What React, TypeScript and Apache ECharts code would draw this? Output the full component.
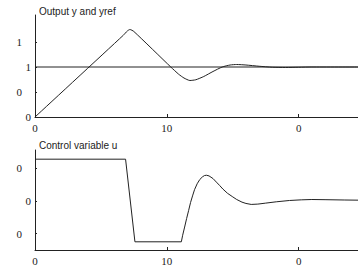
import React, { useEffect, useRef } from "react";
import * as echarts from "echarts";

const titles = ["Output y and yref", "Control variable u"];

// top chart: output y
const tY = [0, 6.7, 7.0, 7.2, 7.5, 10.3, 10.9, 11.3, 11.75, 12.2, 12.8, 13.5, 14.2, 14.8, 15.3, 16.0, 17.0, 18.0, 19.0, 20.0, 21.0, 24.5];
const yVals = [0, 1.635, 1.72, 1.75, 1.71, 1.0, 0.855, 0.78, 0.73, 0.745, 0.81, 0.91, 1.0, 1.04, 1.05, 1.04, 1.015, 0.995, 0.99, 0.995, 1.0, 1.0];
const tRef = [0, 24.5];
const yRef = [1, 1];

// bottom chart: control variable u
const tU = [0, 6.87, 7.58, 11.1, 11.2, 11.35, 11.5, 11.65, 11.8, 11.95, 12.1, 12.3, 12.5, 12.7, 12.85, 13.0, 13.2, 13.5, 13.76, 14.0, 14.25, 14.6, 15.0, 15.3, 15.7, 16.0, 16.4, 16.9, 17.5, 18.3, 19.3, 20.2, 21.0, 22.0, 23.5, 24.5];
const uVals = [1.27, 1.27, -1.25, -1.25, -1.05, -0.8, -0.54, -0.3, -0.05, 0.15, 0.34, 0.52, 0.65, 0.73, 0.77, 0.78, 0.76, 0.68, 0.57, 0.47, 0.36, 0.23, 0.12, 0.04, -0.04, -0.08, -0.11, -0.1, -0.07, -0.03, 0.01, 0.03, 0.04, 0.035, 0.025, 0.02];

// ticks and labels
const xTicks = [0, 10, 20];
const xTickLabels = ["0", "10", "0"];
const yTicks = [0, 0.5, 1, 1.5];
const yTickLabels = ["0", "0", "1", "1"];
const yTickFar = [false, true, false, true];
const uTicks = [-1, 0, 1];
const uTickLabels = ["0", "0", "0"];
const uTickFar = [true, false, true];

const ink = "#222";
const serif = "Liberation Serif";

function zip(a: number[], b: number[]) {
  return a.map((v, i) => [v, b[i]]);
}

function labelFor(ticks: number[], labels: string[], far: boolean[], v: number) {
  const i = ticks.findIndex((t) => Math.abs(t - v) < 1e-9);
  if (i < 0) return "";
  return far[i] ? `{b|${labels[i]}}` : `{a|${labels[i]}}`;
}

export default function App() {
  const ref = useRef<HTMLDivElement>(null);
  useEffect(() => {
    if (!ref.current) return;
    const chart = echarts.init(ref.current, null, { renderer: "svg" });
    const xAxisBase = (gridIndex: number) => ({
      type: "value",
      gridIndex,
      min: 0,
      max: 24.5,
      axisLine: { show: true, onZero: false, lineStyle: { color: ink, width: 1 } },
      axisTick: { show: true, inside: true, length: 3, customValues: xTicks, lineStyle: { color: ink } },
      axisLabel: {
        show: true,
        customValues: xTicks,
        margin: 5,
        fontFamily: serif,
        fontSize: 11,
        color: ink,
        formatter: (v: number) => {
          const i = xTicks.indexOf(v);
          return i >= 0 ? xTickLabels[i] : "";
        },
      },
      splitLine: { show: false },
    });
    const rich = {
      a: { fontFamily: serif, fontSize: 11, color: ink },
      b: { fontFamily: serif, fontSize: 11, color: ink, padding: [0, 9, 0, 0] },
    };
    const titleStyle = { fontFamily: "Liberation Sans", fontSize: 10, fontWeight: "normal", color: ink };
    chart.setOption({
      animation: false,
      title: [
        { text: titles[0], left: 39, top: 6, padding: 0, textStyle: titleStyle },
        { text: titles[1], left: 39, top: 140, padding: 0, textStyle: titleStyle },
      ],
      grid: [
        { left: 35, top: 15, right: 0, height: 102 },
        { left: 35, top: 150, right: 0, height: 102 },
      ],
      xAxis: [xAxisBase(0), xAxisBase(1)],
      yAxis: [
        {
          type: "value",
          gridIndex: 0,
          min: 0,
          max: 2.04,
          axisLine: { show: true, onZero: false, lineStyle: { color: ink, width: 1 } },
          axisTick: { show: true, inside: true, length: 2, customValues: yTicks, lineStyle: { color: ink } },
          axisLabel: {
            show: true,
            customValues: yTicks,
            margin: 4,
            rich,
            formatter: (v: number) => labelFor(yTicks, yTickLabels, yTickFar, v),
          },
          splitLine: { show: false },
        },
        {
          type: "value",
          gridIndex: 1,
          min: -1.5,
          max: 1.55,
          axisLine: { show: true, onZero: false, lineStyle: { color: ink, width: 1 } },
          axisTick: { show: true, inside: true, length: 2, customValues: uTicks, lineStyle: { color: ink } },
          axisLabel: {
            show: true,
            customValues: uTicks,
            margin: 4,
            rich,
            formatter: (v: number) => labelFor(uTicks, uTickLabels, uTickFar, v),
          },
          splitLine: { show: false },
        },
      ],
      series: [
        {
          type: "line",
          xAxisIndex: 0,
          yAxisIndex: 0,
          data: zip(tRef, yRef),
          showSymbol: false,
          lineStyle: { color: ink, width: 1 },
        },
        {
          type: "line",
          xAxisIndex: 0,
          yAxisIndex: 0,
          data: zip(tY, yVals),
          showSymbol: false,
          smooth: 0.2,
          lineStyle: { color: ink, width: 1 },
        },
        {
          type: "line",
          xAxisIndex: 1,
          yAxisIndex: 1,
          data: zip(tU, uVals),
          showSymbol: false,
          lineStyle: { color: ink, width: 1 },
        },
      ],
    });
    return () => chart.dispose();
  }, []);
  return (
    <div
      ref={ref}
      style={{ position: "absolute", left: 0, top: 0, width: 358, height: 266 }}
    />
  );
}
